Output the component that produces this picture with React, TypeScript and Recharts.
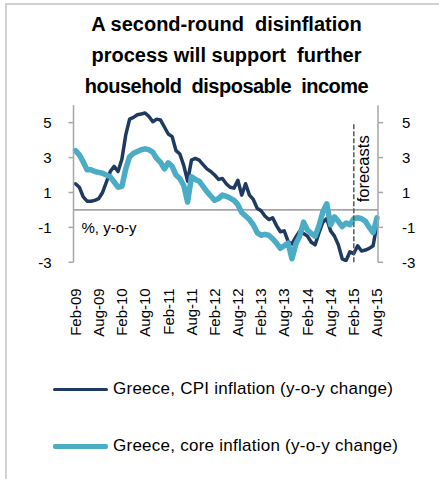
import React from 'react';
import { LineChart, Line, XAxis, YAxis, ReferenceLine } from 'recharts';

const months = [
  'Feb-09','Mar-09','Apr-09','May-09','Jun-09','Jul-09','Aug-09','Sep-09','Oct-09','Nov-09','Dec-09',
  'Jan-10','Feb-10','Mar-10','Apr-10','May-10','Jun-10','Jul-10','Aug-10','Sep-10','Oct-10','Nov-10','Dec-10',
  'Jan-11','Feb-11','Mar-11','Apr-11','May-11','Jun-11','Jul-11','Aug-11','Sep-11','Oct-11','Nov-11','Dec-11',
  'Jan-12','Feb-12','Mar-12','Apr-12','May-12','Jun-12','Jul-12','Aug-12','Sep-12','Oct-12','Nov-12','Dec-12',
  'Jan-13','Feb-13','Mar-13','Apr-13','May-13','Jun-13','Jul-13','Aug-13','Sep-13','Oct-13','Nov-13','Dec-13',
  'Jan-14','Feb-14','Mar-14','Apr-14','May-14','Jun-14','Jul-14','Aug-14','Sep-14','Oct-14','Nov-14','Dec-14',
  'Jan-15','Feb-15','Mar-15','Apr-15','May-15','Jun-15','Jul-15','Aug-15',
];

const cpiInflation = [
  1.5, 1.3, 0.75, 0.5, 0.5, 0.55, 0.65, 1.0, 1.6, 2.2, 2.5,
  2.2, 2.9, 4.3, 5.2, 5.3, 5.45, 5.5, 5.55, 5.35, 5.05, 5.2, 5.15,
  4.75, 4.35, 4.2, 3.4, 3.2, 2.55, 1.65, 2.85, 2.95, 2.85, 2.6, 2.35,
  2.2, 2.0, 1.75, 1.8, 1.5, 1.3, 1.25, 1.7, 0.85, 1.5, 0.85, 0.6,
  0.1, -0.05, -0.35, -0.55, -0.45, -0.9, -1.25, -1.2, -1.8, -1.95, -1.55, -1.22,
  -1.35, -1.5, -1.85, -2.0, -1.3, -0.7, -0.5, -1.2, -1.5, -2.0, -2.8, -2.9,
  -2.4, -2.5, -2.05, -2.35, -2.3, -2.2, -2.05, -0.8,
];

const coreInflation = [
  3.4, 3.15, 2.75, 2.3, 2.3, 2.2, 2.15, 2.1, 2.0, 1.9, 1.6,
  1.3, 1.35, 2.35, 3.05, 3.25, 3.35, 3.45, 3.5, 3.45, 3.3, 2.95, 2.72,
  2.35, 2.7, 2.5, 2.0, 1.8, 1.4, 0.45, 1.9, 1.75, 1.65, 1.35, 1.05,
  0.8, 0.55, 0.65, 0.85, 0.78, 0.68, 0.55, 0.3, -0.15, -0.35, -0.55, -0.85,
  -1.3, -1.45, -1.4, -1.45, -1.65, -1.9, -2.2, -2.05, -1.9, -2.8, -1.95, -1.5,
  -0.7, -1.15, -1.35, -1.5, -0.9, -0.1, 0.35, -0.85, -0.4, -0.65, -0.95, -0.75,
  -0.85, -0.5, -0.45, -0.5, -0.65, -1.0, -1.3, -0.45,
];

const yTicks = [-3, -1, 1, 3, 5];
const yDomain = [-3, 6];
const forecastStart = 'Feb-15';
const titleLines = ['A second-round  disinflation', 'process will support  further', 'household  disposable  income'];
const titleLetterSpacing = [0, 0, -0.5];
const seriesNames = ['Greece, CPI inflation (y-o-y change)', 'Greece, core inflation (y-o-y change)'];
const unitLabel = '%, y-o-y';
const forecastLabel = 'forecasts';

const data = months.map((m, i) => ({ month: m, cpi: cpiInflation[i], core: coreInflation[i] }));

const FONT = "'Liberation Sans', Arial, sans-serif";
const CPI_COLOR = '#1f3a60';
const CORE_COLOR = '#4bacc6';
const AXIS_COLOR = '#a6a6a6';

const XTick = (props: any) => {
  const { x, y, payload } = props;
  const ty = y + 26;
  return (
    <text
      x={x}
      y={ty}
      transform={`rotate(-90 ${x} ${ty})`}
      textAnchor="end"
      dy="0.35em"
      fontSize={15}
      fontFamily={FONT}
      fill="#000"
    >
      {payload.value}
    </text>
  );
};

export default function App() {
  return (
    <div style={{ position: 'absolute', left: 0, top: 0, width: 439, height: 479, background: '#fff', fontFamily: FONT, overflow: 'hidden' }}>
      <div style={{ position: 'absolute', left: 5, top: 3, width: 434, height: 2, background: '#d0d0d0' }} />
      <div style={{ position: 'absolute', left: 5, top: 3, width: 2, height: 476, background: '#d0d0d0' }} />
      <div
        style={{
          position: 'absolute',
          left: 14,
          top: 8.6,
          width: 425,
          textAlign: 'center',
          fontWeight: 'bold',
          fontSize: 20,
          lineHeight: '31px',
          whiteSpace: 'pre',
          color: '#000',
        }}
      >
        {titleLines.map((t, i) => (
          <div key={t} style={{ letterSpacing: titleLetterSpacing[i] }}>{t}</div>
        ))}
      </div>
      <div style={{ position: 'absolute', left: 0, top: 0 }}>
        <LineChart width={439} height={479} data={data} margin={{ top: 105.2, right: 0, bottom: 136.7, left: 0 }}>
          <XAxis
            dataKey="month"
            interval={5}
            axisLine={false}
            tickLine={false}
            tickSize={0}
            tickMargin={0}
            height={80}
            tick={<XTick />}
            padding={{ left: 2, right: 1 }}
          />
          <YAxis
            yAxisId="l"
            orientation="left"
            width={73.5}
            domain={yDomain}
            ticks={yTicks}
            allowDataOverflow
            axisLine={{ stroke: AXIS_COLOR, strokeWidth: 1.5 }}
            tickLine={{ stroke: AXIS_COLOR, strokeWidth: 1.5 }}
            tickSize={5}
            tickMargin={17}
            tick={{ fontSize: 15, fill: '#000', fontFamily: FONT }}
          />
          <YAxis
            yAxisId="r"
            orientation="right"
            width={61}
            domain={yDomain}
            ticks={yTicks}
            allowDataOverflow
            axisLine={{ stroke: AXIS_COLOR, strokeWidth: 1.5 }}
            tickLine={{ stroke: AXIS_COLOR, strokeWidth: 1.5 }}
            tickSize={5}
            tickMargin={19}
            tick={{ fontSize: 15, fill: '#000', fontFamily: FONT, textAnchor: 'start' }}
          />
          <ReferenceLine
            yAxisId="l"
            y={0}
            stroke={AXIS_COLOR}
            strokeWidth={1.75}
            label={(p: any) => {
              const vb = p.viewBox || {};
              return (
                <text x={(vb.x ?? 74) + 8} y={(vb.y ?? 209) + 23.5} fontSize={15} fontFamily={FONT} fill="#000">
                  {unitLabel}
                </text>
              );
            }}
          />
          <Line yAxisId="l" type="linear" dataKey="cpi" stroke={CPI_COLOR} strokeWidth={3.5} dot={false} isAnimationActive={false} strokeLinejoin="round" strokeLinecap="round" />
          <Line yAxisId="l" type="linear" dataKey="core" stroke={CORE_COLOR} strokeWidth={5.5} dot={false} isAnimationActive={false} strokeLinejoin="round" strokeLinecap="round" />
          <ReferenceLine
            yAxisId="l"
            segment={[{ x: forecastStart, y: -3 }, { x: forecastStart, y: 5 }]}
            stroke="#595959"
            strokeWidth={1.5}
            strokeDasharray="5 2"
            label={(p: any) => {
              const vb = p.viewBox || {};
              const x = (vb.x ?? 354.5) + 15;
              const y = (vb.y ?? 122.7) + (vb.height ?? 139.6) - 60;
              return (
                <text x={x} y={y} transform={`rotate(-90 ${x} ${y})`} textAnchor="start" fontSize={16.5} fontFamily={FONT} fill="#000">
                  {forecastLabel}
                </text>
              );
            }}
          />
        </LineChart>
      </div>
      {seriesNames.map((name, i) => {
        const cy = i === 0 ? 389 : 446;
        return (
          <div key={name}>
            <div
              style={{
                position: 'absolute',
                left: 53,
                top: cy - (i === 0 ? 1.5 : 2.5),
                width: 55,
                height: i === 0 ? 3 : 5,
                borderRadius: 2,
                background: i === 0 ? CPI_COLOR : CORE_COLOR,
              }}
            />
            <div
              style={{
                position: 'absolute',
                left: 113,
                top: cy - 11,
                height: 22,
                lineHeight: '22px',
                fontSize: 17,
                letterSpacing: 0.25,
                color: '#000',
                whiteSpace: 'nowrap',
              }}
            >
              {name}
            </div>
          </div>
        );
      })}
    </div>
  );
}
